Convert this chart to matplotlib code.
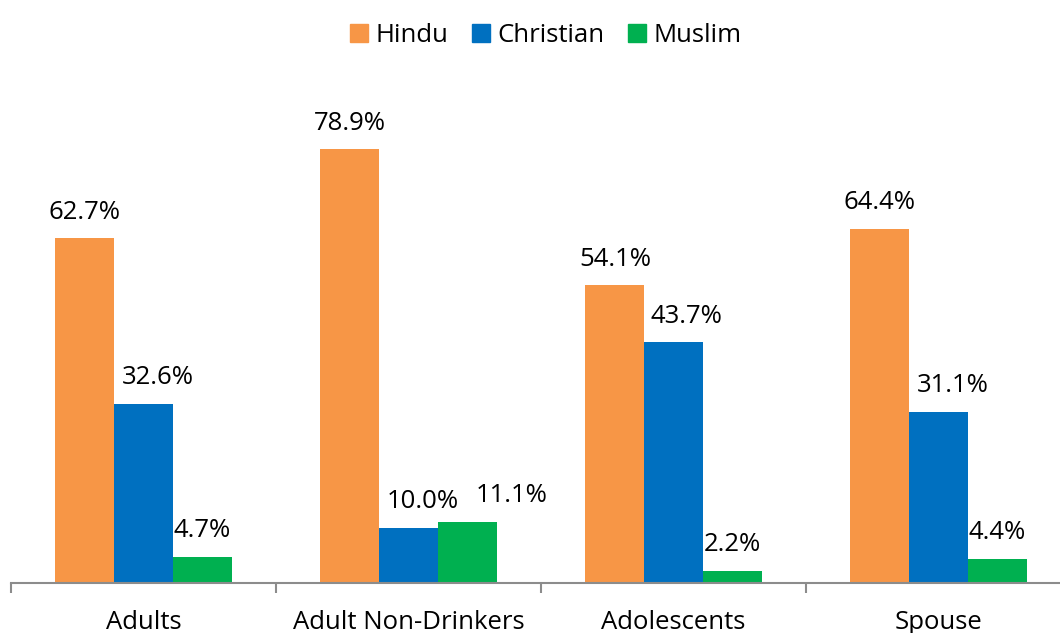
import matplotlib.pyplot as plt
import numpy as np
from matplotlib.patches import Patch

plt.rcParams['font.family'] = ['Open Sans', 'DejaVu Sans']

groups = ['Adults', 'Adult Non-Drinkers', 'Adolescents', 'Spouse']
series = ['Hindu', 'Christian', 'Muslim']
hindu = [62.7, 78.9, 54.1, 64.4]
christian = [32.6, 10.0, 43.7, 31.1]
muslim = [4.7, 11.1, 2.2, 4.4]
colors = ['#F79646', '#0070C0', '#00B050']

# horizontal nudges (points) for the value labels, per series and group
label_dx = [
    [0, 0, 0, 0],
    [10.5, 10, 9, 10.5],
    [0, 32, 0, 0],
]

fig = plt.figure(figsize=(10.6, 6.33), dpi=100)
# axes runs a little past the right edge of the figure
ax = fig.add_axes([11 / 1060, (633 - 582.7) / 633, 1060 / 1060, 494.7 / 633])

x = np.arange(len(groups))
w = 0.2214
for i, (vals, c) in enumerate(zip([hindu, christian, muslim], colors)):
    pos = x + (i - 1) * w
    ax.bar(pos, vals, width=w, color=c, zorder=2)
    for j, (px, v) in enumerate(zip(pos, vals)):
        ax.annotate(f'{v:.1f}%', (px, v), xytext=(label_dx[i][j], 14),
                    textcoords='offset points', ha='center', va='baseline',
                    fontsize=18.5, color='#000000')

ax.set_xlim(-0.5, 3.5)
ax.set_ylim(0, 90)
for s in ['top', 'right', 'left']:
    ax.spines[s].set_visible(False)
ax.spines['bottom'].set_color('#8c8c8c')
ax.spines['bottom'].set_linewidth(1.5)
ax.set_yticks([])
ax.set_xticks(np.arange(-0.5, 4, 1.0))
ax.set_xticklabels([])
ax.tick_params(axis='x', length=7, width=1.5, color='#8c8c8c', direction='out')
for xi, g in zip(x, groups):
    ax.text(xi, -0.08, g, transform=ax.get_xaxis_transform(), ha='center',
            va='center', fontsize=18.5)

handles = [Patch(color=c, label=s) for c, s in zip(colors, series)]
fig.legend(handles=handles, loc='center', bbox_to_anchor=(546 / 1060, 1 - 35 / 633),
           ncol=3, frameon=False, fontsize=18.5, handlelength=0.7,
           handleheight=0.7, handletextpad=0.3, columnspacing=0.9)

fig.savefig('out.png', dpi=100)
